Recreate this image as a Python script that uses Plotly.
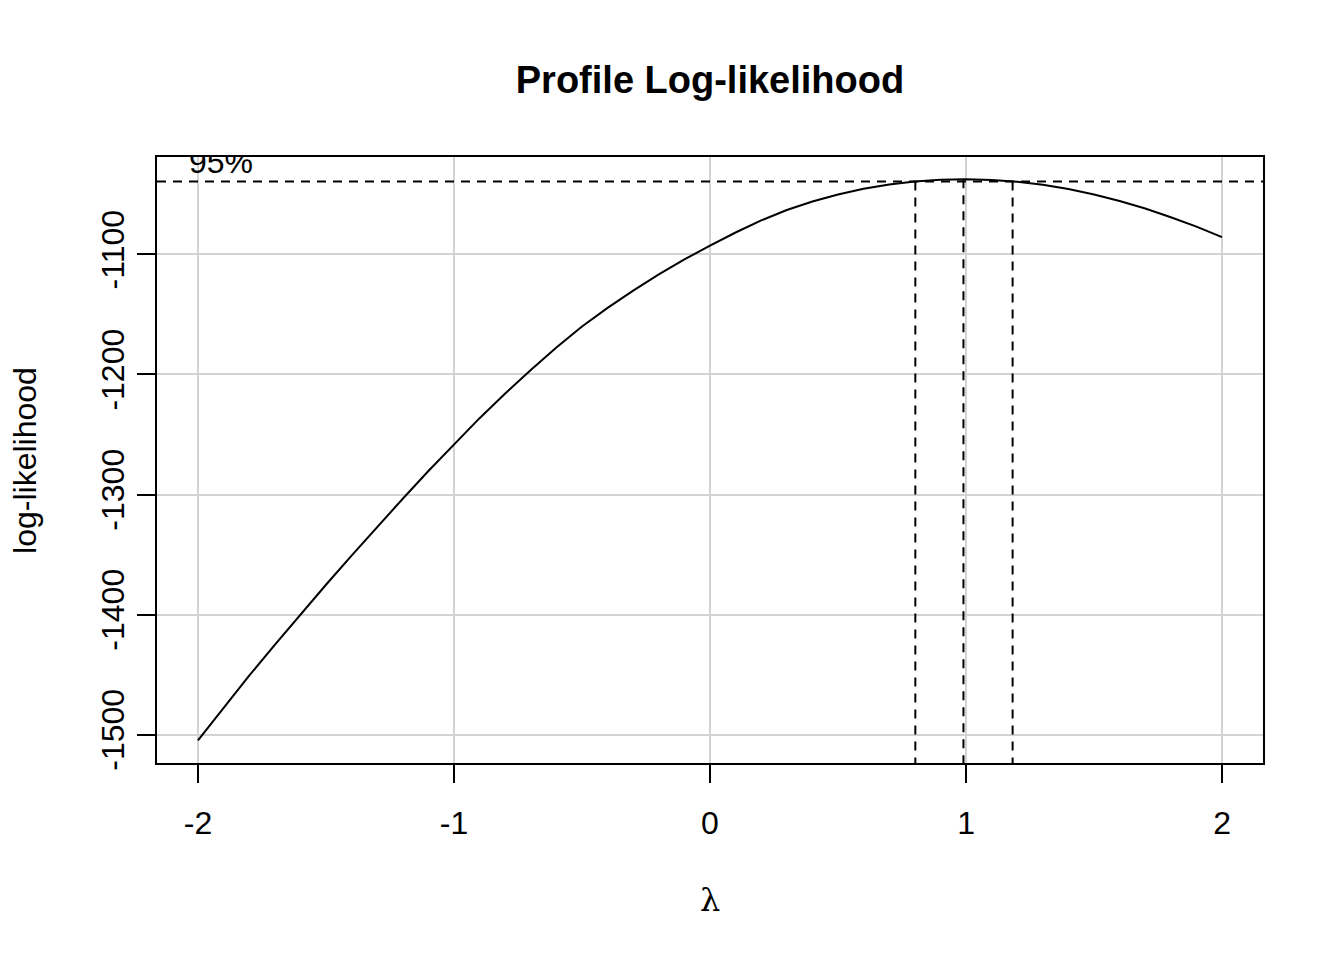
import plotly.graph_objects as go

# Box-Cox profile log-likelihood, lambda = -2 .. 2 by 0.1
lambdas = [-2.0, -1.9, -1.8, -1.7, -1.6, -1.5, -1.4, -1.3, -1.2, -1.1,
           -1.0, -0.9, -0.8, -0.7, -0.6, -0.5, -0.4, -0.3, -0.2, -0.1,
           0.0, 0.1, 0.2, 0.3, 0.4, 0.5, 0.6, 0.7, 0.8, 0.9,
           1.0, 1.1, 1.2, 1.3, 1.4, 1.5, 1.6, 1.7, 1.8, 1.9, 2.0]
loglik = [-1504.9, -1477.9, -1451.0, -1425.2, -1399.9, -1375.2, -1350.9, -1327.0, -1303.5, -1280.4,
          -1258.1, -1236.4, -1215.8, -1196.2, -1177.6, -1160.0, -1144.5, -1130.1, -1116.6, -1104.1,
          -1092.7, -1081.7, -1071.6, -1063.0, -1055.9, -1050.0, -1045.3, -1041.7, -1039.2, -1037.7,
          -1037.3, -1037.9, -1039.5, -1042.0, -1045.5, -1050.0, -1055.4, -1061.7, -1069.0, -1076.8, -1085.6]

ci_level = -1039.2          # 95% cutoff of the log-likelihood
ci_lambdas = [0.802, 0.990, 1.182]   # lower limit, MLE, upper limit
ci_tops = [-1039.2, -1037.3, -1039.2]

x_ticks = [-2, -1, 0, 1, 2]
y_ticks = [-1500, -1400, -1300, -1200, -1100]

x_range = [-2.16, 2.16]
y_range = [-1523.7, -1018.8]

FONT = "Liberation Sans, Arial, sans-serif"
FS = 32

fig = go.Figure()

fig.add_trace(go.Scatter(x=lambdas, y=loglik, mode="lines",
                         line=dict(color="black", width=2), showlegend=False,
                         hoverinfo="skip"))

# horizontal 95% line
fig.add_trace(go.Scatter(x=x_range, y=[ci_level, ci_level], mode="lines",
                         line=dict(color="black", width=2, dash="9px,7px"),
                         showlegend=False, hoverinfo="skip"))

# vertical dashed lines
for lam, top in zip(ci_lambdas, ci_tops):
    fig.add_trace(go.Scatter(x=[lam, lam], y=[top, y_range[0]], mode="lines",
                             line=dict(color="black", width=2, dash="9px,7px"),
                             showlegend=False, hoverinfo="skip"))

# "95%" label, clipped to the plotting region like in R
fig.add_trace(go.Scatter(x=[-1.91], y=[ci_level], mode="text", text=["95%"],
                         textposition="top center", cliponaxis=True,
                         textfont=dict(family=FONT, size=FS, color="black"),
                         showlegend=False, hoverinfo="skip"))

axis_common = dict(showline=True, mirror=True, linecolor="black", linewidth=2,
                   ticks="outside", ticklen=18, tickwidth=2, tickcolor="black",
                   showgrid=True, gridcolor="#D3D3D3", gridwidth=2,
                   zeroline=False, tickfont=dict(family=FONT, size=FS, color="black"))

fig.update_xaxes(range=x_range, tickvals=x_ticks, ticktext=[str(v) for v in x_ticks],
                 ticklabelstandoff=13, **axis_common)
fig.update_yaxes(range=y_range, tickvals=y_ticks, ticktext=[str(v) for v in y_ticks],
                 tickangle=-90, ticklabelstandoff=0, **axis_common)

fig.add_annotation(x=0.5, y=-0.226, xref="paper", yref="paper", text="λ",
                   showarrow=False, xanchor="center", yanchor="middle",
                   font=dict(family="DejaVu Serif, serif", size=FS, color="black"))
fig.add_annotation(x=-0.1194, y=0.5, xref="paper", yref="paper", text="log-likelihood",
                   showarrow=False, xanchor="center", yanchor="middle", textangle=-90,
                   font=dict(family=FONT, size=FS, color="black"))

# the page adds an 8px body margin, so the figure is offset by (8, 8)
fig.update_layout(
    width=1344, height=960,
    margin=dict(l=149, r=89, t=149, b=205),
    paper_bgcolor="white", plot_bgcolor="white",
    title=dict(text="<b>Profile Log-likelihood</b>", x=0.5, xref="paper",
               y=1 - 72 / 960, yref="container", xanchor="center", yanchor="middle",
               font=dict(family=FONT, size=38, color="black")),
)

fig.write_html("out.html")
